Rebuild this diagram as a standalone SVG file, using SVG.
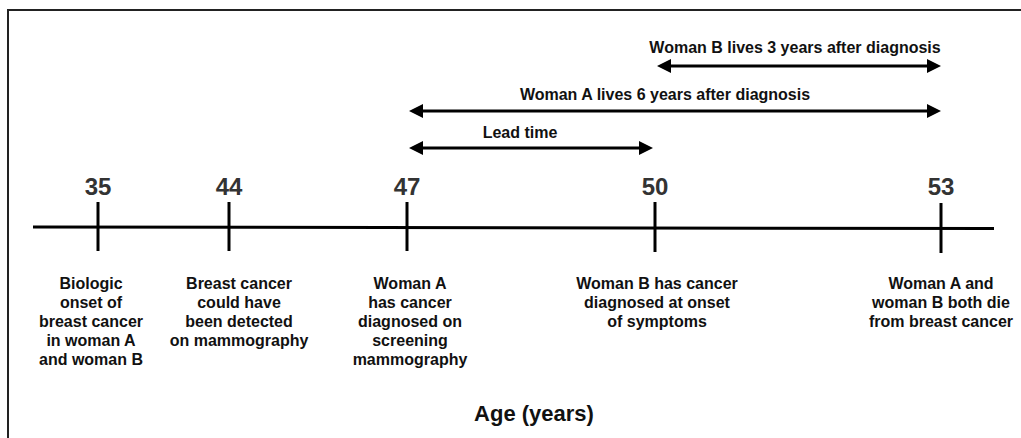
<svg xmlns="http://www.w3.org/2000/svg" width="1021" height="438" viewBox="0 0 1021 438">
<defs>
<style>
text{font-family:"Liberation Sans",Arial,sans-serif;font-weight:bold;text-anchor:middle}
.num{font-size:24px;fill:#333}
.lbl{font-size:16px;fill:#111}
.top{font-size:16px;fill:#111}
.axis{font-size:22px;fill:#111}
.ln{stroke:#000;stroke-width:3;fill:none}
.arr{stroke:#000;stroke-width:3;fill:none;marker-start:url(#ah);marker-end:url(#ah)}
</style>
<marker id="ah" markerUnits="userSpaceOnUse" markerWidth="14" markerHeight="14" refX="2" refY="7" orient="auto-start-reverse">
<path d="M0,0 L14,7 L0,14 z" fill="#000"/>
</marker>
</defs>
<rect width="1021" height="438" fill="#fff"/>
<path d="M8,438 V10 H1021" stroke="#222" stroke-width="2" fill="none"/>
<g id="connectors">
<line class="ln" x1="33" y1="227" x2="994" y2="228.5"/>
<line class="arr" x1="669" y1="66" x2="929" y2="66"/>
<line class="arr" x1="421" y1="111" x2="929" y2="111"/>
<line class="arr" x1="421" y1="148" x2="641" y2="148"/>
</g>
<g id="tick35"><line class="ln" x1="98" y1="202" x2="98" y2="251"/><text class="num" x="98" y="195">35</text></g>
<g id="tick44"><line class="ln" x1="229" y1="202" x2="229" y2="251"/><text class="num" x="229" y="195">44</text></g>
<g id="tick47"><line class="ln" x1="407" y1="202" x2="407" y2="251"/><text class="num" x="407" y="195">47</text></g>
<g id="tick50"><line class="ln" x1="655" y1="202" x2="655" y2="252"/><text class="num" x="655" y="195">50</text></g>
<g id="tick53"><line class="ln" x1="941" y1="203" x2="941" y2="253"/><text class="num" x="941" y="195">53</text></g>
<g id="label-b3"><text class="top" x="795" y="53">Woman B lives 3 years after diagnosis</text></g>
<g id="label-a6"><text class="top" x="665" y="100">Woman A lives 6 years after diagnosis</text></g>
<g id="label-lead"><text class="top" x="520" y="138">Lead time</text></g>
<g id="desc35"><text class="lbl" x="91" y="289">Biologic</text><text class="lbl" x="91" y="308">onset of</text><text class="lbl" x="91" y="327">breast cancer</text><text class="lbl" x="91" y="346">in woman A</text><text class="lbl" x="91" y="365">and woman B</text></g>
<g id="desc44"><text class="lbl" x="239" y="289">Breast cancer</text><text class="lbl" x="239" y="308">could have</text><text class="lbl" x="239" y="327">been detected</text><text class="lbl" x="239" y="346">on mammography</text></g>
<g id="desc47"><text class="lbl" x="410" y="289">Woman A</text><text class="lbl" x="410" y="308">has cancer</text><text class="lbl" x="410" y="327">diagnosed on</text><text class="lbl" x="410" y="346">screening</text><text class="lbl" x="410" y="365">mammography</text></g>
<g id="desc50"><text class="lbl" x="657" y="289">Woman B has cancer</text><text class="lbl" x="657" y="308">diagnosed at onset</text><text class="lbl" x="657" y="327">of symptoms</text></g>
<g id="desc53"><text class="lbl" x="941" y="289">Woman A and</text><text class="lbl" x="941" y="308">woman B both die</text><text class="lbl" x="941" y="327">from breast cancer</text></g>
<g id="axis-title"><text class="axis" x="534" y="421">Age (years)</text></g>
</svg>
